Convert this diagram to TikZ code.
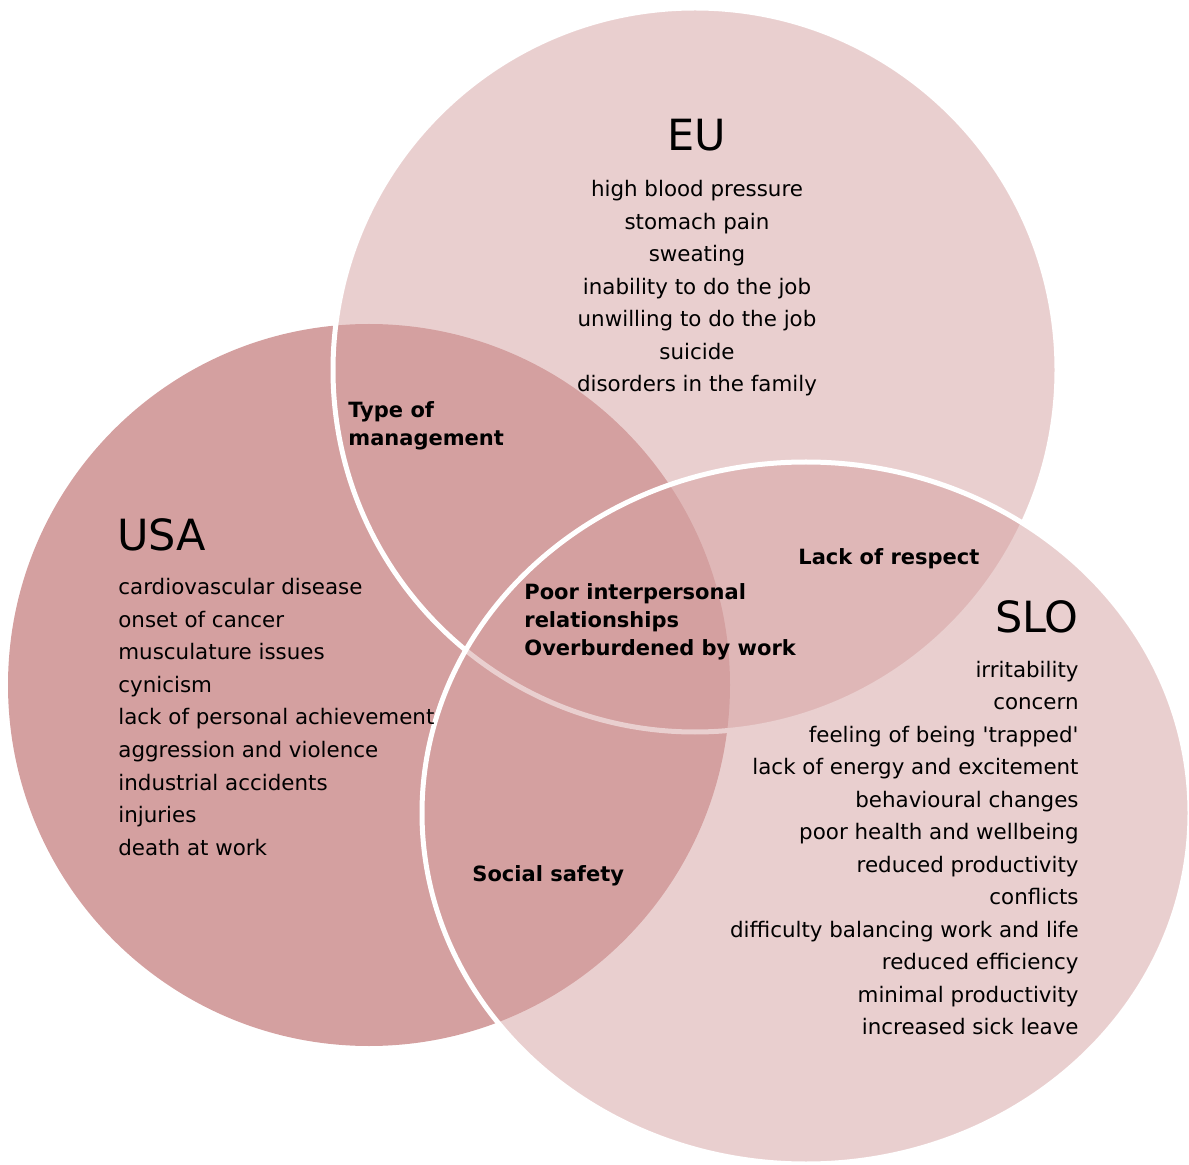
\documentclass[tikz,border=0pt]{standalone}
\usepackage{fontspec}
\setmainfont{DejaVu Sans}
\definecolor{rose}{RGB}{212,160,160}
\begin{document}
\begin{tikzpicture}[x=0.5pt,y=-0.5pt,
  item/.style={inner sep=0pt, font=\fontsize{10.7}{12}\selectfont, text=black},
  heading/.style={inner sep=0pt, font=\fontsize{21.5}{24}\selectfont, text=black},
  shared/.style={inner sep=0pt, font=\bfseries\fontsize{10.5}{12}\selectfont, text=black},
  ring/.style={draw=white, line width=2.5pt, fill=rose, fill opacity=0.5}]
\useasboundingbox (0,0) rectangle (1189,1165);

% set centres
\coordinate (usa) at (369,685);
\coordinate (eu) at (695,370);
\coordinate (slo) at (806,813);

% the three sets: USA solid, EU and SLO translucent with white rims
\fill[rose] (usa) circle[radius=180.5pt];
\path[ring] (eu) circle[radius=181pt];
\path[ring] (slo) ellipse[x radius=192pt, y radius=175.5pt];

% EU
\node[heading, anchor=base] (eu-title) at (697,151) {EU};
\foreach \t [count=\i] in {high blood pressure, stomach pain, sweating,
    inability to do the job, unwilling to do the job, suicide,
    disorders in the family}
  \node[item, anchor=base] (eu-\i) at (697,{197+32.5*(\i-1)}) {\t};

% USA
\node[heading, anchor=base west] (usa-title) at (117,551) {USA};
\foreach \t [count=\i] in {cardiovascular disease, onset of cancer,
    musculature issues, cynicism, lack of personal achievement,
    aggression and violence, industrial accidents, injuries, death at work}
  \node[item, anchor=base west] (usa-\i) at (118,{595+32.5*(\i-1)}) {\t};

% SLO
\node[heading, anchor=base east] (slo-title) at (1079,633) {SLO};
\foreach \t [count=\i] in {irritability, concern,
    feeling of being \textquotesingle trapped\textquotesingle,
    lack of energy and excitement, behavioural changes,
    poor health and wellbeing, reduced productivity, conflicts,
    difficulty balancing work and life, reduced efficiency,
    minimal productivity, increased sick leave}
  \node[item, anchor=base east] (slo-\i) at (1079,{677+32.5*(\i-1)}) {\t};

% overlaps
\node[shared, anchor=base west] (usa-eu-1) at (348,418) {Type of};
\node[shared, anchor=base west] (usa-eu-2) at (348,446) {management};
\node[shared, anchor=base west] (eu-slo) at (798,565) {Lack of respect};
\node[shared, anchor=base west] (all-1) at (524,600) {Poor interpersonal};
\node[shared, anchor=base west] (all-2) at (524,628) {relationships};
\node[shared, anchor=base west] (all-3) at (524,656) {Overburdened by work};
\node[shared, anchor=base west] (usa-slo) at (472,881) {Social safety};
\end{tikzpicture}
\end{document}
